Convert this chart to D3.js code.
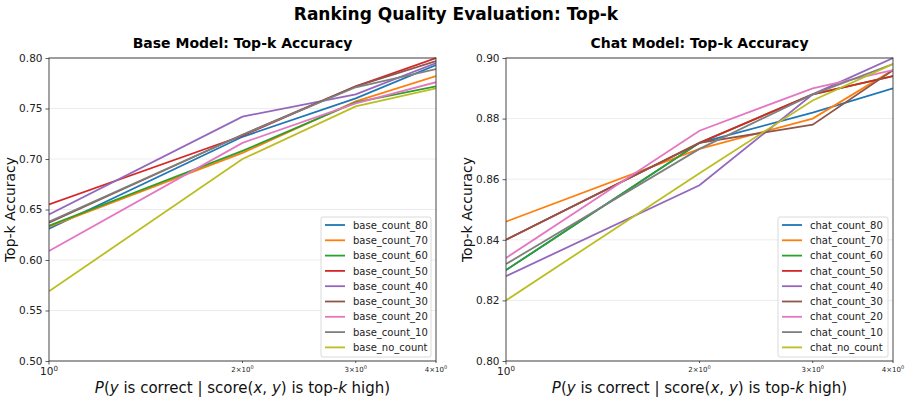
<!DOCTYPE html>
<html>
<head>
<meta charset="utf-8">
<script src="https://cdn.jsdelivr.net/npm/d3@7"></script>
<style>
  body { margin: 0; background: #fff; }
  svg { font-family: "DejaVu Sans", sans-serif; }
</style>
</head>
<body>
<svg id="chart" width="912" height="402"></svg>
<script>
const xValues = [1, 2, 3, 4];
const colors = ["#1f77b4", "#ff7f0e", "#2ca02c", "#d62728", "#9467bd", "#8c564b", "#e377c2", "#7f7f7f", "#bcbd22"];

const baseNames = ["base_count_80", "base_count_70", "base_count_60", "base_count_50", "base_count_40", "base_count_30", "base_count_20", "base_count_10", "base_no_count"];
const base_count_80 = [0.631, 0.722, 0.760, 0.793];
const base_count_70 = [0.633, 0.706, 0.757, 0.782];
const base_count_60 = [0.634, 0.708, 0.756, 0.772];
const base_count_50 = [0.655, 0.723, 0.772, 0.800];
const base_count_40 = [0.645, 0.742, 0.764, 0.795];
const base_count_30 = [0.637, 0.724, 0.772, 0.797];
const base_count_20 = [0.609, 0.716, 0.755, 0.776];
const base_count_10 = [0.638, 0.724, 0.771, 0.789];
const base_no_count = [0.569, 0.700, 0.752, 0.770];

const chatNames = ["chat_count_80", "chat_count_70", "chat_count_60", "chat_count_50", "chat_count_40", "chat_count_30", "chat_count_20", "chat_count_10", "chat_no_count"];
const chat_count_80 = [0.830, 0.872, 0.882, 0.890];
const chat_count_70 = [0.846, 0.870, 0.880, 0.896];
const chat_count_60 = [0.830, 0.872, 0.888, 0.894];
const chat_count_50 = [0.840, 0.872, 0.888, 0.894];
const chat_count_40 = [0.828, 0.858, 0.888, 0.900];
const chat_count_30 = [0.840, 0.872, 0.878, 0.896];
const chat_count_20 = [0.834, 0.876, 0.890, 0.896];
const chat_count_10 = [0.832, 0.870, 0.888, 0.898];
const chat_no_count = [0.820, 0.862, 0.886, 0.898];

const baseYTicks = [0.50, 0.55, 0.60, 0.65, 0.70, 0.75, 0.80];
const chatYTicks = [0.80, 0.82, 0.84, 0.86, 0.88, 0.90];

const baseSeries = [base_count_80, base_count_70, base_count_60, base_count_50, base_count_40, base_count_30, base_count_20, base_count_10, base_no_count];
const chatSeries = [chat_count_80, chat_count_70, chat_count_60, chat_count_50, chat_count_40, chat_count_30, chat_count_20, chat_count_10, chat_no_count];

const svg = d3.select("#chart");

svg.append("text")
  .attr("x", 456).attr("y", 20)
  .attr("text-anchor", "middle")
  .attr("font-size", 17).attr("font-weight", "bold")
  .text("Ranking Quality Evaluation: Top-k");

function panel(opts) {
  const { left, right, top, bottom, title, names, series, yDomain, yTicks, yFmt } = opts;
  const g = svg.append("g");
  const x = d3.scaleLog().domain([1, 4]).range([left, right]);
  const y = d3.scaleLinear().domain(yDomain).range([bottom, top]);

  g.selectAll(".grid").data(yTicks).enter().append("line")
    .attr("x1", left).attr("x2", right)
    .attr("y1", d => y(d)).attr("y2", d => y(d))
    .attr("stroke", "#b0b0b0").attr("stroke-opacity", 0.3).attr("stroke-width", 0.8);

  const line = d3.line().x((d, i) => x(xValues[i])).y(d => y(d));
  const clipId = "clip" + left;
  svg.append("clipPath").attr("id", clipId).append("rect")
    .attr("x", left).attr("y", top - 2).attr("width", right - left).attr("height", bottom - top + 4);
  g.append("g").attr("clip-path", `url(#${clipId})`)
    .selectAll("path").data(series).enter().append("path")
    .attr("d", line)
    .attr("fill", "none")
    .attr("stroke", (d, i) => colors[i])
    .attr("stroke-width", 1.8);

  g.append("rect").attr("x", left).attr("y", top)
    .attr("width", right - left).attr("height", bottom - top)
    .attr("fill", "none").attr("stroke", "#333").attr("stroke-width", 0.9);

  const yAxis = d3.axisLeft(y).tickValues(yTicks).tickFormat(yFmt).tickSize(3.5).tickPadding(3);
  const ya = g.append("g").attr("transform", `translate(${left},0)`).call(yAxis);
  ya.select(".domain").remove();
  ya.selectAll("text").attr("font-size", 10.5).attr("fill", "#222").attr("font-family", "DejaVu Sans");
  ya.selectAll("line").attr("stroke", "#333").attr("stroke-width", 0.8);

  const xa = g.append("g");
  xa.selectAll("line").data(xValues).enter().append("line")
    .attr("x1", d => x(d)).attr("x2", d => x(d))
    .attr("y1", bottom).attr("y2", d => bottom + (d === 1 ? 3.5 : 2))
    .attr("stroke", "#333").attr("stroke-width", 0.8);
  const t1 = xa.append("text").attr("x", x(1)).attr("y", bottom + 14)
    .attr("text-anchor", "middle").attr("font-size", 10.5).attr("fill", "#222");
  t1.append("tspan").text("10");
  t1.append("tspan").attr("font-size", 7).attr("dy", -4).text("0");
  xValues.filter(d => d !== 1).forEach(d => {
    const t = xa.append("text").attr("x", x(d)).attr("y", bottom + 11)
      .attr("text-anchor", "middle").attr("font-size", 7).attr("fill", "#222");
    t.append("tspan").text(d + "\u00d710");
    t.append("tspan").attr("font-size", 5).attr("dy", -3).text("0");
  });

  g.append("text").attr("x", (left + right) / 2).attr("y", top - 10)
    .attr("text-anchor", "middle").attr("font-size", 14).attr("font-weight", "bold")
    .text(title);

  g.append("text")
    .attr("transform", `translate(${left - 34},${(top + bottom) / 2}) rotate(-90)`)
    .attr("text-anchor", "middle").attr("font-size", 14).attr("fill", "#111")
    .text("Top-k Accuracy");

  const xl = g.append("text").attr("x", (left + right) / 2).attr("y", bottom + 32)
    .attr("text-anchor", "middle").attr("font-size", 15).attr("fill", "#111");
  const parts = [["P", true], ["(", false], ["y", true], [" is correct | score(", false], ["x", true], [", ", false], ["y", true], [") is top-", false], ["k", true], [" high)", false]];
  parts.forEach(([s, it]) => {
    xl.append("tspan").attr("font-style", it ? "italic" : "normal").text(s);
  });

  const lw = 110, lh = 140;
  const lx = right - 5 - lw, ly = bottom - 4 - lh;
  const leg = g.append("g");
  leg.append("rect").attr("x", lx).attr("y", ly).attr("width", lw).attr("height", lh)
    .attr("rx", 2).attr("fill", "#fff").attr("fill-opacity", 0.8)
    .attr("stroke", "#d0d0d0").attr("stroke-width", 0.8);
  names.forEach((n, i) => {
    const yy = ly + 8 + i * 15.3;
    leg.append("line").attr("x1", lx + 4).attr("x2", lx + 24)
      .attr("y1", yy).attr("y2", yy)
      .attr("stroke", colors[i]).attr("stroke-width", 1.8);
    leg.append("text").attr("x", lx + 32).attr("y", yy + 3.6)
      .attr("font-size", 10).attr("fill", "#222").text(n);
  });
}

panel({ left: 49, right: 436, top: 58, bottom: 361, title: "Base Model: Top-k Accuracy",
  names: baseNames, series: baseSeries, yDomain: [0.5, 0.8], yTicks: baseYTicks, yFmt: d3.format(".2f") });
panel({ left: 506, right: 893, top: 58, bottom: 361, title: "Chat Model: Top-k Accuracy",
  names: chatNames, series: chatSeries, yDomain: [0.8, 0.9], yTicks: chatYTicks, yFmt: d3.format(".2f") });
</script>
</body>
</html>
